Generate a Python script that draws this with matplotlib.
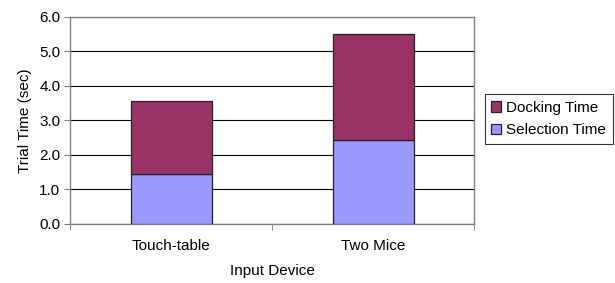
import matplotlib

matplotlib.use('Agg')
import matplotlib.pyplot as plt
import numpy as np

plt.rcParams['font.family'] = ['Liberation Sans', 'DejaVu Sans']

devices = ['Touch-table', 'Two Mice']
selection_time = [1.45, 2.43]
docking_time = [2.12, 3.08]

SEL_COLOR = '#9999FF'
DOCK_COLOR = '#993366'
FS = 11

fig = plt.figure(figsize=(6.15, 2.83), dpi=100)
ax = fig.add_axes([0.114, 0.2085, 0.657, 0.7315])

x = np.arange(len(devices))
ax.bar(x, selection_time, width=0.4, color=SEL_COLOR, edgecolor='#222222',
       linewidth=0.9, label='Selection Time', zorder=3)
ax.bar(x, docking_time, width=0.4, bottom=selection_time, color=DOCK_COLOR,
       edgecolor='#222222', linewidth=0.9, label='Docking Time', zorder=3)

ax.set_xlim(-0.5, len(devices) - 0.5)
ax.set_ylim(0, 6)
ax.set_yticks(np.arange(0, 6.1, 1.0))
ax.set_yticklabels([f'{v:.1f}' for v in np.arange(0, 6.1, 1.0)], fontsize=FS)
ax.set_xticks(x)
ax.set_xticklabels(devices, fontsize=FS)
ax.set_xticks(np.arange(-0.5, len(devices), 1.0), minor=True)
ax.tick_params(axis='x', which='major', length=0, pad=11)
ax.tick_params(axis='x', which='minor', length=4, color='#808080')
ax.tick_params(axis='y', length=4, color='#808080', pad=3)

ax.yaxis.grid(True, color='black', linewidth=0.8, zorder=0)
for s in ax.spines.values():
    s.set_color('#808080')
    s.set_linewidth(1.0)

ax.set_ylabel('Trial Time (sec)', fontsize=FS, labelpad=5)
ax.set_xlabel('Input Device', fontsize=FS, labelpad=8)

handles, labels = ax.get_legend_handles_labels()
leg = fig.legend(handles[::-1], labels[::-1], loc='upper left',
                 bbox_to_anchor=(0.788, 0.668), fontsize=FS, frameon=True,
                 fancybox=False, edgecolor='black', handlelength=0.65,
                 handleheight=0.65, handletextpad=0.3, borderpad=0.45,
                 labelspacing=0.55, borderaxespad=0)
leg.get_frame().set_linewidth(0.8)

fig.savefig('out.png', dpi=100)
